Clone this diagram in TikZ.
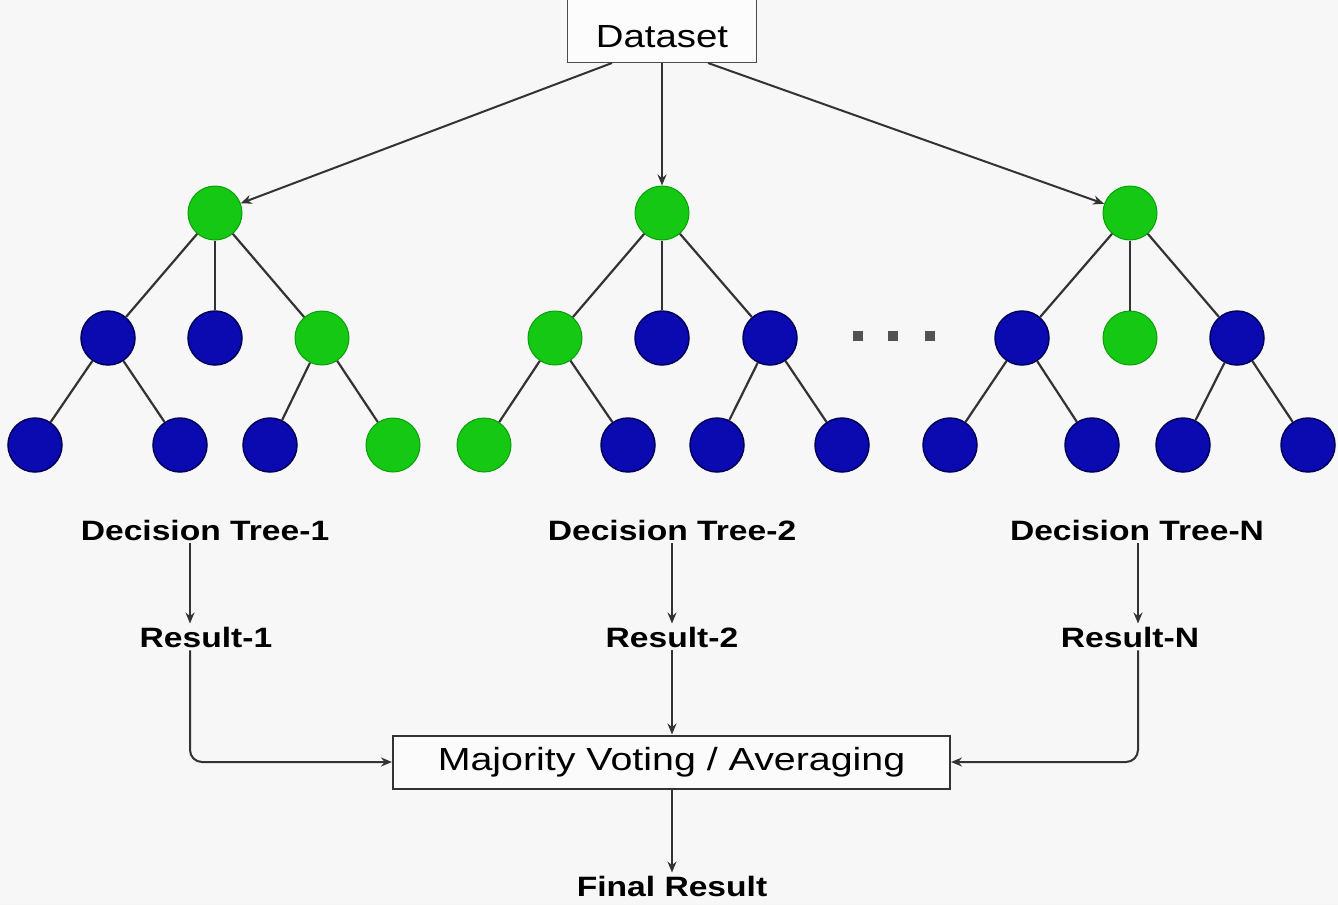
\documentclass[tikz,border=0pt]{standalone}
\usepackage{graphicx}
\usepackage{fontspec}
\setmainfont{Liberation Sans}
\usetikzlibrary{arrows.meta}
\definecolor{bg}{HTML}{F7F7F7}
\definecolor{gfill}{HTML}{14C814}
\definecolor{gline}{HTML}{0B9E0B}
\definecolor{bfill}{HTML}{0A0AB0}
\definecolor{bline}{HTML}{00005A}
\definecolor{edgec}{HTML}{333333}
\newcommand{\wx}[1]{\scalebox{1.2}[1]{#1}}
\begin{document}
\begin{tikzpicture}[x=1pt,y=-1pt,
  gnode/.style={circle, fill=gfill, draw=gline, line width=1pt, minimum size=54pt, inner sep=0pt},
  bnode/.style={circle, fill=bfill, draw=bline, line width=1.5pt, minimum size=54pt, inner sep=0pt},
  tedge/.style={draw=edgec, line width=2.2pt},
  arr/.style={draw=edgec, line width=2pt, -{Stealth[length=11pt,width=9pt]}},
  lbl/.style={font=\fontsize{28}{32}\selectfont\bfseries, inner sep=3pt},
  boxlbl/.style={font=\fontsize{32}{36}\selectfont, inner sep=0pt},
  dotsq/.style={rectangle, fill=edgec!85, minimum size=10pt, inner sep=0pt}
]
\useasboundingbox (0,0) rectangle (1338,905);
\fill[bg] (0,0) rectangle (1338,905);

% Dataset box
\node[draw=black!70, fill=white!60!bg, line width=1.4pt, minimum width=189pt, minimum height=80pt, anchor=south] (ds) at (662,63) {};
\node[boxlbl] (dstext) at (662,37) {\wx{Dataset}};

% Tree 1
\node[gnode] (a0) at (215,213) {};
\node[bnode] (a1) at (108,338) {};
\node[bnode] (a2) at (215,338) {};
\node[gnode] (a3) at (322,338) {};
\node[bnode] (a4) at (35,445) {};
\node[bnode] (a5) at (180,445) {};
\node[bnode] (a6) at (270,445) {};
\node[gnode] (a7) at (393,445) {};
% Tree 2
\node[gnode] (b0) at (662,213) {};
\node[gnode] (b1) at (555,338) {};
\node[bnode] (b2) at (662,338) {};
\node[bnode] (b3) at (770,338) {};
\node[gnode] (b4) at (484,445) {};
\node[bnode] (b5) at (628,445) {};
\node[bnode] (b6) at (717,445) {};
\node[bnode] (b7) at (842,445) {};
% Tree N
\node[gnode] (c0) at (1130,213) {};
\node[bnode] (c1) at (1022,338) {};
\node[gnode] (c2) at (1130,338) {};
\node[bnode] (c3) at (1237,338) {};
\node[bnode] (c4) at (950,445) {};
\node[bnode] (c5) at (1092,445) {};
\node[bnode] (c6) at (1183,445) {};
\node[bnode] (c7) at (1308,445) {};

% tree edges
\foreach \p/\c in {a0/a1,a0/a2,a0/a3,a1/a4,a1/a5,a3/a6,a3/a7,
                   b0/b1,b0/b2,b0/b3,b1/b4,b1/b5,b3/b6,b3/b7,
                   c0/c1,c0/c2,c0/c3,c1/c4,c1/c5,c3/c6,c3/c7}
  \path[tedge] (\p) -- (\c);

% ellipsis dots
\node[dotsq] (e1) at (858,336) {};
\node[dotsq] (e2) at (893,336) {};
\node[dotsq] (e3) at (930,336) {};

% dataset arrows
\draw[arr] ([xshift=-50pt]ds.south) -- (a0);
\draw[arr] (ds.south) -- (b0);
\draw[arr] ([xshift=46pt]ds.south) -- (c0);

% labels
\node[lbl] (dt1) at (205,530) {\wx{Decision Tree-1}};
\node[lbl] (dt2) at (672,530) {\wx{Decision Tree-2}};
\node[lbl] (dtn) at (1137,530) {\wx{Decision Tree-N}};
\node[lbl] (r1) at (206,637) {\wx{Result-1}};
\node[lbl] (r2) at (672,637) {\wx{Result-2}};
\node[lbl] (rn) at (1130,637) {\wx{Result-N}};

\coordinate (x1) at (190,0);
\coordinate (x2) at (672,0);
\coordinate (xn) at (1138,0);

\draw[arr] (dt1.south -| x1) -- (r1.north -| x1);
\draw[arr] (dt2.south -| x2) -- (r2.north -| x2);
\draw[arr] (dtn.south -| xn) -- (rn.north -| xn);

% majority box
\node[draw=black!80, fill=white!50!bg, line width=2pt, minimum width=557pt, minimum height=53pt, inner sep=0pt] (mv) at (671.5,762) {};
\node[boxlbl] (mvtext) at (671.5,762) {\scalebox{1.23}[1]{Majority Voting / Averaging}};

\draw[arr, rounded corners=12pt] (r1.south -| x1) |- (mv.west);
\draw[arr] (r2.south -| x2) -- (mv.north -| x2);
\draw[arr, rounded corners=12pt] (rn.south -| xn) |- (mv.east);

\node[lbl] (fr) at (672,886) {\wx{Final Result}};
\draw[arr] (mv.south -| x2) -- (fr.north -| x2);
\end{tikzpicture}
\end{document}
